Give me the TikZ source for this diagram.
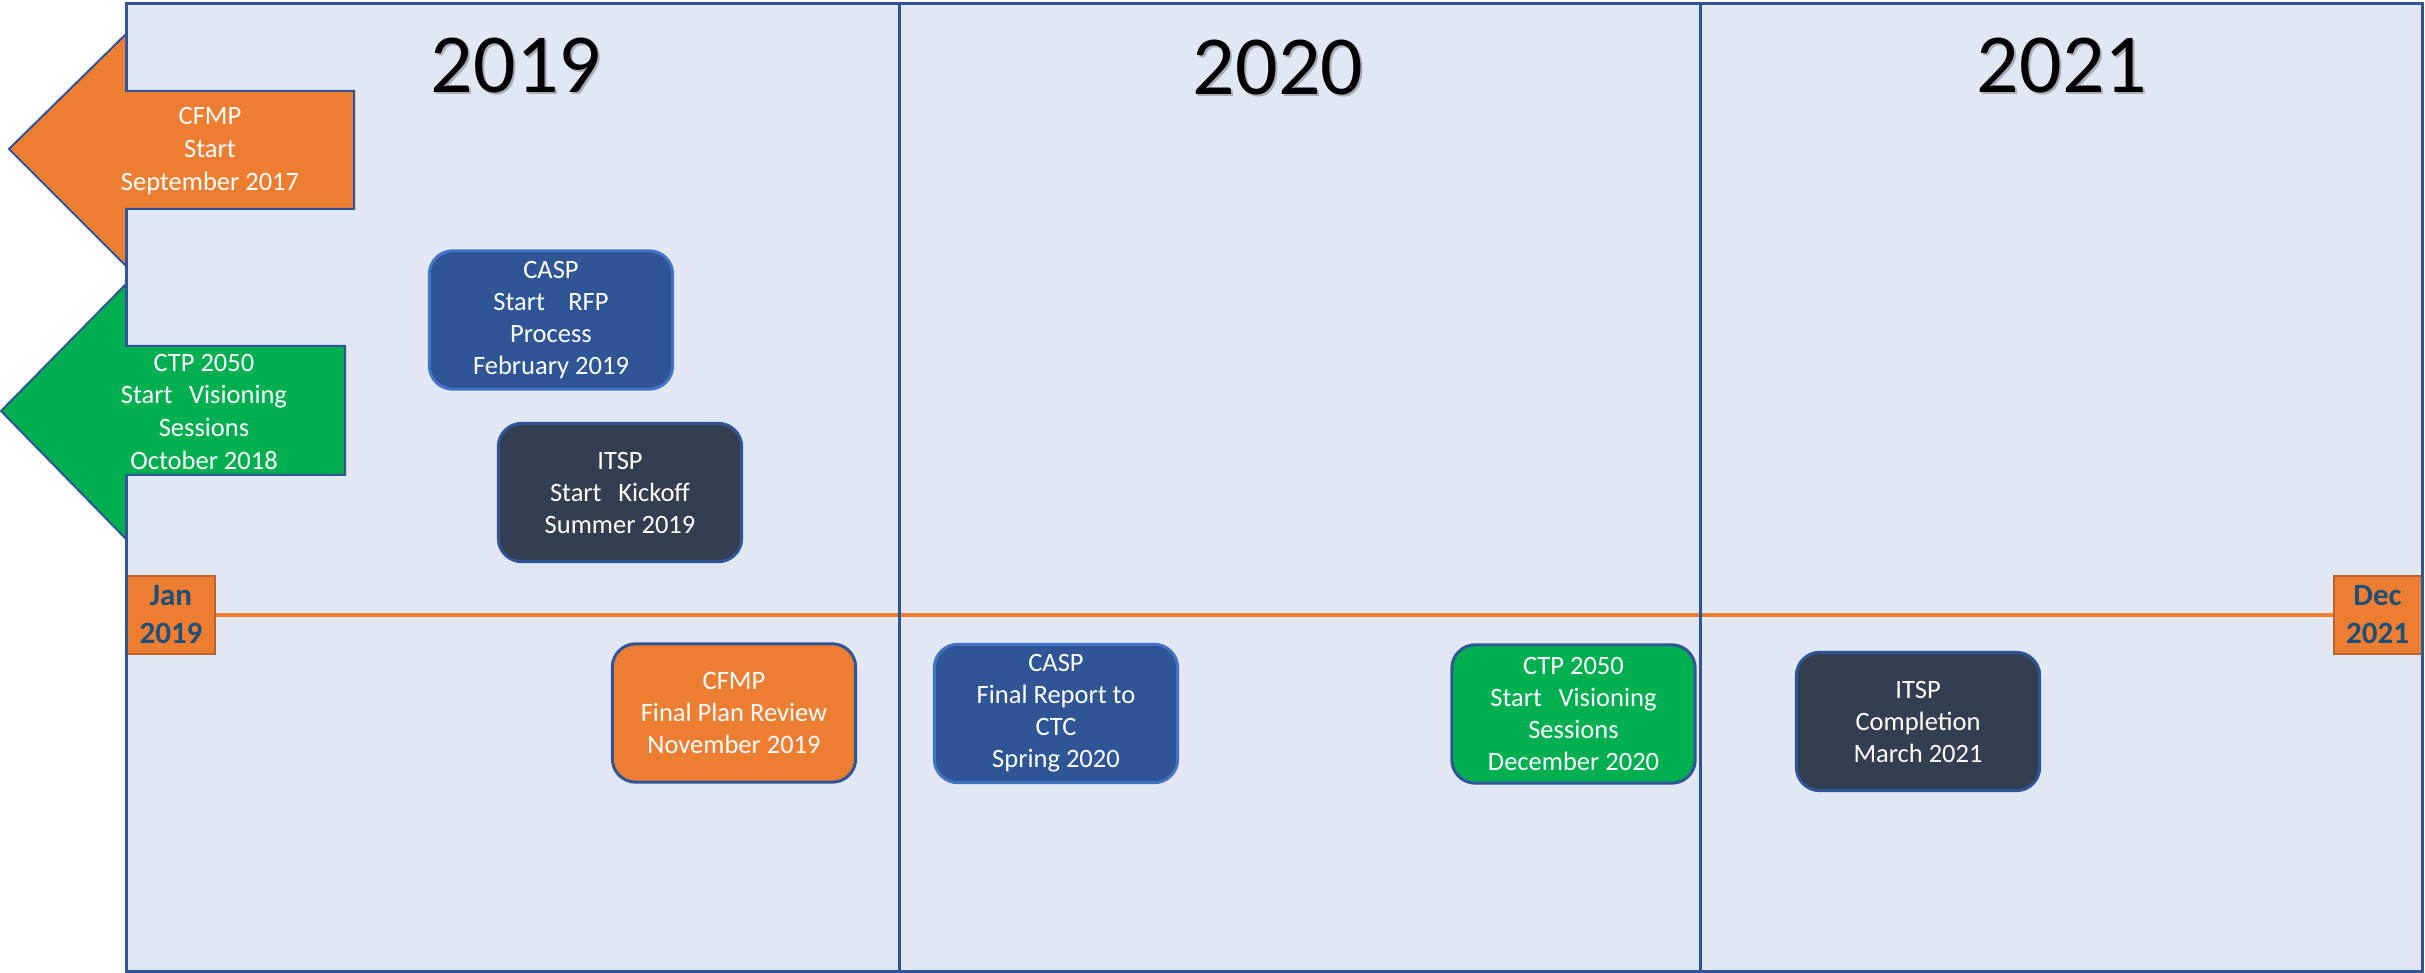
\documentclass[tikz,border=0pt]{standalone}
\usepackage{fontspec}
\usetikzlibrary{backgrounds}
\setmainfont{Carlito}
\definecolor{panelfill}{RGB}{225,231,243}
\definecolor{panelline}{RGB}{47,85,151}
\definecolor{myorange}{RGB}{237,125,49}
\definecolor{orangeline}{RGB}{190,98,40}
\definecolor{myblue}{RGB}{47,85,151}
\definecolor{lightblue}{RGB}{68,114,196}
\definecolor{slate}{RGB}{51,63,80}
\definecolor{mygreen}{RGB}{0,176,80}
\definecolor{datetext}{RGB}{31,78,121}
\tikzset{
  evbox/.style={rounded corners=7pt, line width=0.9pt, text=white, align=center,
    minimum width=73pt, minimum height=41.5pt, inner sep=0pt,
    font=\fontsize{7.95}{9.6}\selectfont},
  bluebox/.style={evbox, fill=myblue, draw=lightblue},
  slatebox/.style={evbox, fill=slate, draw=myblue},
  orangebox/.style={evbox, fill=myorange, draw=myblue},
  greenbox/.style={evbox, fill=mygreen, draw=myblue},
  datebox/.style={fill=myorange, draw=orangeline, line width=0.6pt, text=datetext,
    align=center, inner sep=0pt, minimum width=26.4pt, minimum height=23.2pt,
    font=\bfseries\fontsize{9.3}{11.4}\selectfont},
  arrowshape/.style={draw=myblue, line width=0.6pt},
  arrowtext/.style={text=white, align=center, font=\fontsize{7.95}{9.8}\selectfont},
  yeartext/.style={font=\fontsize{25.2}{30}\selectfont, text=black},
  yearshadow/.style={font=\fontsize{25.2}{30}\selectfont, text=black, opacity=0.25},
  timeline/.style={draw=myorange, line width=1.3pt},
  divider/.style={draw=panelline, line width=0.9pt}
}
\begin{document}
\begin{tikzpicture}[x=0.3pt, y=-0.3pt]
\useasboundingbox (0,0) rectangle (2425,973);
% date boxes at the ends of the timeline
\node[datebox] (jan) at (171,615) {Jan\\2019};
\node[datebox] (dec) at (2377.5,615) {Dec\\2021};
\begin{scope}[on background layer]
  \fill[panelfill] (126,4) rectangle (2422,971);
  \draw[timeline] (jan.east) -- (dec.west);
\end{scope}
% panel border and dividers
\draw[divider] (126,4) rectangle (2422,971);
\draw[divider] (899,4) -- (899,971);
\draw[divider] (1700,4) -- (1700,971);
% year headings
\node[yearshadow] at (518,67.5) {2019};
\node[yeartext] (y2019) at (516,65.5) {2019};
\node[yearshadow] at (1280,70) {2020};
\node[yeartext] (y2020) at (1278,68) {2020};
\node[yearshadow] at (2064,67.5) {2021};
\node[yeartext] (y2021) at (2062,65.5) {2021};
% left arrows
\filldraw[arrowshape, fill=myorange] (354,91) -- (126,91) -- (126,34) -- (9,149) -- (126,266) -- (126,209) -- (354,209) -- cycle;
\node[arrowtext] (cfmpstart) at (210,151) {CFMP\\Start\\September 2017};
\filldraw[arrowshape, fill=mygreen] (345,346) -- (126,346) -- (126,284) -- (1,411) -- (126,539) -- (126,475) -- (345,475) -- cycle;
\node[arrowtext] (ctpstart) at (204,411.5) {CTP 2050\\Start\hspace{5pt}Visioning\\Sessions\\October 2018};
% events
\node[bluebox] (casp1) at (551,320) {CASP\\Start\hspace{7pt}RFP\\Process\\February 2019};
\node[slatebox] (itsp1) at (620,492.5) {ITSP\\Start\hspace{5pt}Kickoff\\Summer 2019};
\node[orangebox] (cfmp2) at (734,713) {CFMP\\Final Plan Review\\November 2019};
\node[bluebox] (casp2) at (1056,713.5) {CASP\\Final Report to\\CTC\\Spring 2020};
\node[greenbox] (ctp2) at (1573.5,714) {CTP 2050\\Start\hspace{5pt}Visioning\\Sessions\\December 2020};
\node[slatebox] (itsp2) at (1918,721.5) {ITSP\\Completion\\March 2021};
\end{tikzpicture}
\end{document}
